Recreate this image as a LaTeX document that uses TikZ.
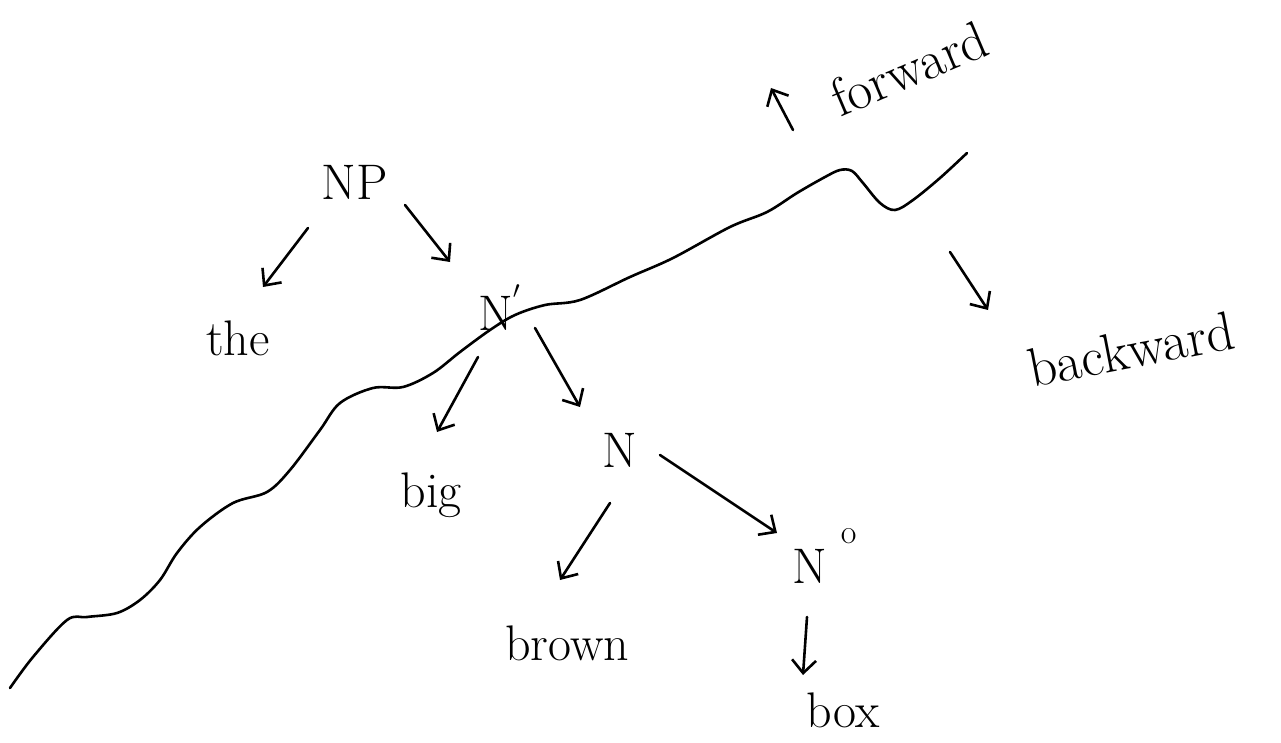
\documentclass[tikz,border=0pt]{standalone}
\usetikzlibrary{arrows.meta,calc}
\begin{document}
\begin{tikzpicture}[x=1pt,y=-1pt,
  lbl/.style={inner sep=0pt, anchor=base, font=\fontsize{50}{60}\selectfont},
  conn/.style={line width=2.6pt, line cap=round, line join=round,
    -{Straight Barb[length=13pt,width=24pt,line width=2.6pt]}},
  wave/.style={line width=2.6pt, line cap=round, line join=round}]
\useasboundingbox (0,0) rectangle (1281,743);
% wavy line
\draw[wave] plot[smooth, tension=0.55] coordinates {
 (10,688) (33,657) (67,620) (87,617) (117,613) (140,600) (160,580) (177,553)
 (200,527) (233,503) (267,492) (290,470) (320,430) (340,403) (373,388)
 (403,387) (433,373) (460,352) (490,330) (515,315) (545,305) (580,300)
 (630,277) (673,258) (730,227) (767,212) (797,193) (825,177) (840,170)
 (852,171) (863,183) (880,203) (895,210) (913,200) (940,178) (967,153)};
% labels
\node[lbl] (np) at (355,200) {NP};
\node[lbl] (the) at (238,355) {the};
\node[lbl, anchor=base west] (nbar) at (478,330) {N\raisebox{22pt}{\fontsize{40}{40}\selectfont$'$}};
\node[lbl] (big) at (431,507) {big};
\node[lbl] (n) at (620,467) {N};
\node[lbl] (brown) at (567,660) {brown};
\node[lbl, anchor=base west] (n0) at (792,583) {N\hspace{14pt}\raisebox{40pt}{\fontsize{34}{34}\selectfont o}};
\node[lbl] (box) at (843,727) {box};
\node[lbl, anchor=base west, rotate=23, font=\fontsize{54}{62}\selectfont] (fwd) at (840,118) {forward};
\node[lbl, anchor=base west, rotate=11, font=\fontsize{55}{66}\selectfont] (bwd) at (1032,388) {backward};
% free arrow ends
\coordinate (fa1) at (793,130);
\coordinate (fa2) at (771,88);
\coordinate (ba1) at (950,252);
\coordinate (ba2) at (988,310);
% connectors
\draw[conn] ($(np.base)+(-47,28)$) -- ($(the.base)+(25,-68)$);
\draw[conn] ($(np.base)+(50,5)$) -- ($(nbar.base west)+(-28,-68)$);
\draw[conn] ($(nbar.base west)+(0,27)$) -- ($(big.base)+(6,-75)$);
\draw[conn] ($(nbar.base west)+(57,-2)$) -- ($(n.base)+(-40,-60)$);
\draw[conn] ($(n.base)+(-10,36)$) -- ($(brown.base)+(-7,-80)$);
\draw[conn] ($(n.base)+(40,-12)$) -- ($(n0.base west)+(-15,-50)$);
\draw[conn] ($(n0.base west)+(15,34)$) -- ($(box.base)+(-40,-52)$);
\draw[conn] (fa1) -- (fa2);
\draw[conn] (ba1) -- (ba2);
\end{tikzpicture}
\end{document}
